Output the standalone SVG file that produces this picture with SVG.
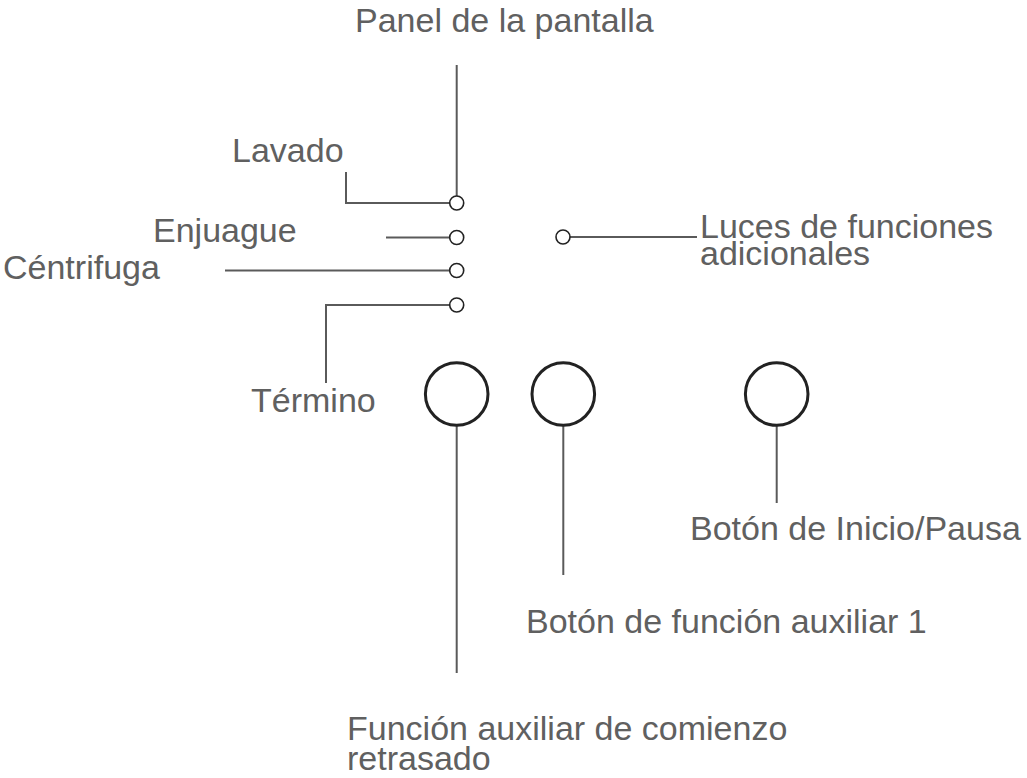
<svg xmlns="http://www.w3.org/2000/svg" width="1027" height="778" viewBox="0 0 1027 778">
<style>
.lbl{font-family:"Liberation Sans",Arial,sans-serif;font-size:34px;fill:#606060}
.ln{stroke:#5a5a5a;stroke-width:2;fill:none}
.sc{fill:#fff;stroke:#222;stroke-width:1.6}
.bc{fill:#fff;stroke:#222;stroke-width:3}
</style>
<rect width="1027" height="778" fill="#fff"/>
<g id="connectors">
<path class="ln" d="M456.7 65 V196"/>
<path class="ln" d="M346 172 V203 H450"/>
<path class="ln" d="M386 237.5 H450"/>
<path class="ln" d="M225 270.5 H450"/>
<path class="ln" d="M326 383 V305 H450"/>
<path class="ln" d="M570 237 H697"/>
<path class="ln" d="M456.7 415 V673"/>
<path class="ln" d="M563.3 415 V575"/>
<path class="ln" d="M776.7 416 V503"/>
</g>
<g id="panel"><text class="lbl" x="355" y="32">Panel de la pantalla</text></g>
<g id="lavado"><circle class="sc" cx="456.7" cy="203" r="7"/><text class="lbl" x="232" y="162">Lavado</text></g>
<g id="enjuague"><circle class="sc" cx="456.7" cy="237.5" r="7"/><text class="lbl" x="153" y="242">Enjuague</text></g>
<g id="centrifuga"><circle class="sc" cx="456.7" cy="270.5" r="7"/><text class="lbl" x="3" y="278.5">Céntrifuga</text></g>
<g id="termino"><circle class="sc" cx="456.7" cy="305" r="7"/><text class="lbl" x="251" y="412">Término</text></g>
<g id="luces"><circle class="sc" cx="563" cy="237" r="7"/><text class="lbl" x="700" y="237.5">Luces de funciones<tspan x="700" dy="27.5">adicionales</tspan></text></g>
<g id="btn-retraso"><circle class="bc" cx="456.7" cy="394" r="31.3"/><text class="lbl" x="347" y="740">Función auxiliar de comienzo<tspan x="347" dy="29.5">retrasado</tspan></text></g>
<g id="btn-aux1"><circle class="bc" cx="563.3" cy="394" r="31.3"/><text class="lbl" x="526" y="633">Botón de función auxiliar 1</text></g>
<g id="btn-inicio"><circle class="bc" cx="776.7" cy="394" r="31.3"/><text class="lbl" x="690" y="540">Botón de Inicio/Pausa</text></g>
</svg>
